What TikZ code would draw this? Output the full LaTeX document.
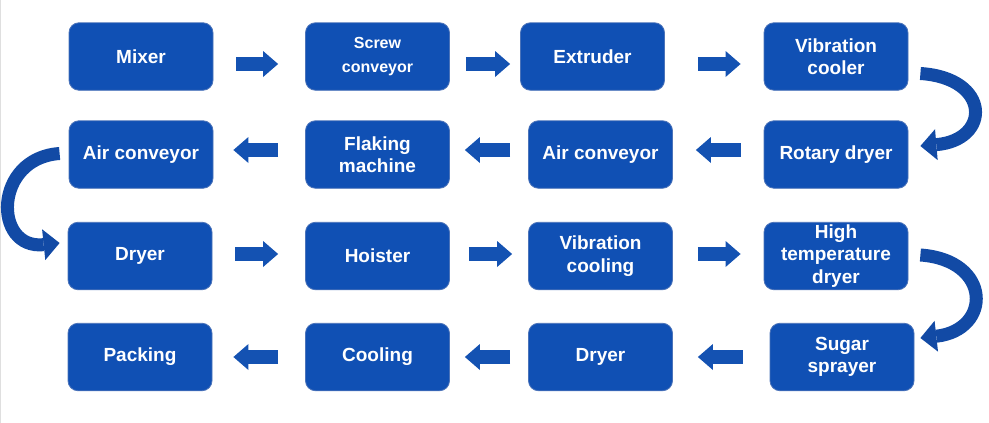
\documentclass[tikz,border=0pt]{standalone}
\usepackage{fontspec}
\setmainfont{Liberation Sans}
\usetikzlibrary{arrows.meta}
\definecolor{boxblue}{RGB}{16,80,180}
\definecolor{boxedge}{RGB}{75,115,185}
\definecolor{arrblue}{RGB}{20,82,178}
\definecolor{curveblue}{RGB}{18,74,165}
\begin{document}
\begin{tikzpicture}[x=1pt,y=-1pt,
  stage/.style={draw=boxedge, line width=0.8pt, fill=boxblue, rounded corners=10pt,
    minimum width=144pt, minimum height=67.5pt, text=white, inner sep=0pt,
    font=\fontsize{19}{22.5}\selectfont\bfseries, align=center},
  smalltext/.style={font=\fontsize{16}{24}\selectfont\bfseries},
  blockarr/.style={arrblue, line width=14pt,
    -{Triangle[width=26pt,length=15pt,line width=0pt]}},
  bendarr/.style={curveblue, line width=13pt,
    -{Triangle[width=31pt,length=16pt,line width=0pt]}}]
\useasboundingbox (0,0) rectangle (989,423);
\draw[gray!25, line width=1pt] (0.5,0) -- (0.5,423);
% row 1
\node[stage] (mixer) at (141,56.5) {Mixer};
\node[stage, smalltext] (screw) at (377.5,56.5) {Screw\\conveyor};
\node[stage] (extruder) at (592.5,56.5) {Extruder};
\node[stage] (vcooler) at (836,56.5) {Vibration\\cooler};
% row 2
\node[stage] (airc1) at (141,154.5) {Air conveyor};
\node[stage] (flaking) at (377.5,154.5) {Flaking\\machine};
\node[stage] (airc2) at (600.5,154.5) {Air conveyor};
\node[stage] (rotary) at (836,154.5) {Rotary dryer};
% row 3
\node[stage] (dryer1) at (140,256) {Dryer};
\node[stage] (hoister) at (377.5,256) {Hoister};
\node[stage] (vcooling) at (600.5,256) {Vibration\\cooling};
\node[stage] (hightemp) at (836,256) {High\\temperature\\dryer};
% row 4
\node[stage] (packing) at (140,357) {Packing};
\node[stage] (cooling) at (377.5,357) {Cooling};
\node[stage] (dryer2) at (600.5,357) {Dryer};
\node[stage] (sugar) at (842,357) {Sugar\\sprayer};
% straight block arrows, row 1
\draw[blockarr] ([xshift=23pt,yshift=-7.5pt]mixer.east) -- ([xshift=-27pt,yshift=-7.5pt]screw.west);
\draw[blockarr] ([xshift=16pt,yshift=-7.5pt]screw.east) -- ([xshift=-10pt,yshift=-7.5pt]extruder.west);
\draw[blockarr] ([xshift=33pt,yshift=-7.5pt]extruder.east) -- ([xshift=-23pt,yshift=-7.5pt]vcooler.west);
% row 2
\draw[blockarr] ([xshift=-23pt,yshift=4.5pt]rotary.west) -- ([xshift=23pt,yshift=4.5pt]airc2.east);
\draw[blockarr] ([xshift=-18pt,yshift=4.5pt]airc2.west) -- ([xshift=15pt,yshift=4.5pt]flaking.east);
\draw[blockarr] ([xshift=-27pt,yshift=4.5pt]flaking.west) -- ([xshift=20pt,yshift=4.5pt]airc1.east);
% row 3
\draw[blockarr] ([xshift=23pt,yshift=2pt]dryer1.east) -- ([xshift=-27pt,yshift=2pt]hoister.west);
\draw[blockarr] ([xshift=19pt,yshift=2pt]hoister.east) -- ([xshift=-16pt,yshift=2pt]vcooling.west);
\draw[blockarr] ([xshift=25pt,yshift=2pt]vcooling.east) -- ([xshift=-23pt,yshift=2pt]hightemp.west);
% row 4
\draw[blockarr] ([xshift=-27pt]sugar.west) -- ([xshift=25pt]dryer2.east);
\draw[blockarr] ([xshift=-18pt]dryer2.west) -- ([xshift=15pt]cooling.east);
\draw[blockarr] ([xshift=-27pt]cooling.west) -- ([xshift=21pt]packing.east);
% curved arrows
\draw[bendarr] ([xshift=12pt,yshift=-17pt]vcooler.east) .. controls (991,78) and (991,140) .. ([xshift=12pt,yshift=8.5pt]rotary.east);
\draw[bendarr] ([xshift=-9pt,yshift=1pt]airc1.west) .. controls (-7,158) and (-7,250) .. ([xshift=-8pt,yshift=13pt]dryer1.west);
\draw[bendarr] ([xshift=12pt,yshift=1pt]hightemp.east) .. controls (992,260) and (992,330) .. ([xshift=6pt,yshift=19pt]sugar.east);
\end{tikzpicture}
\end{document}
